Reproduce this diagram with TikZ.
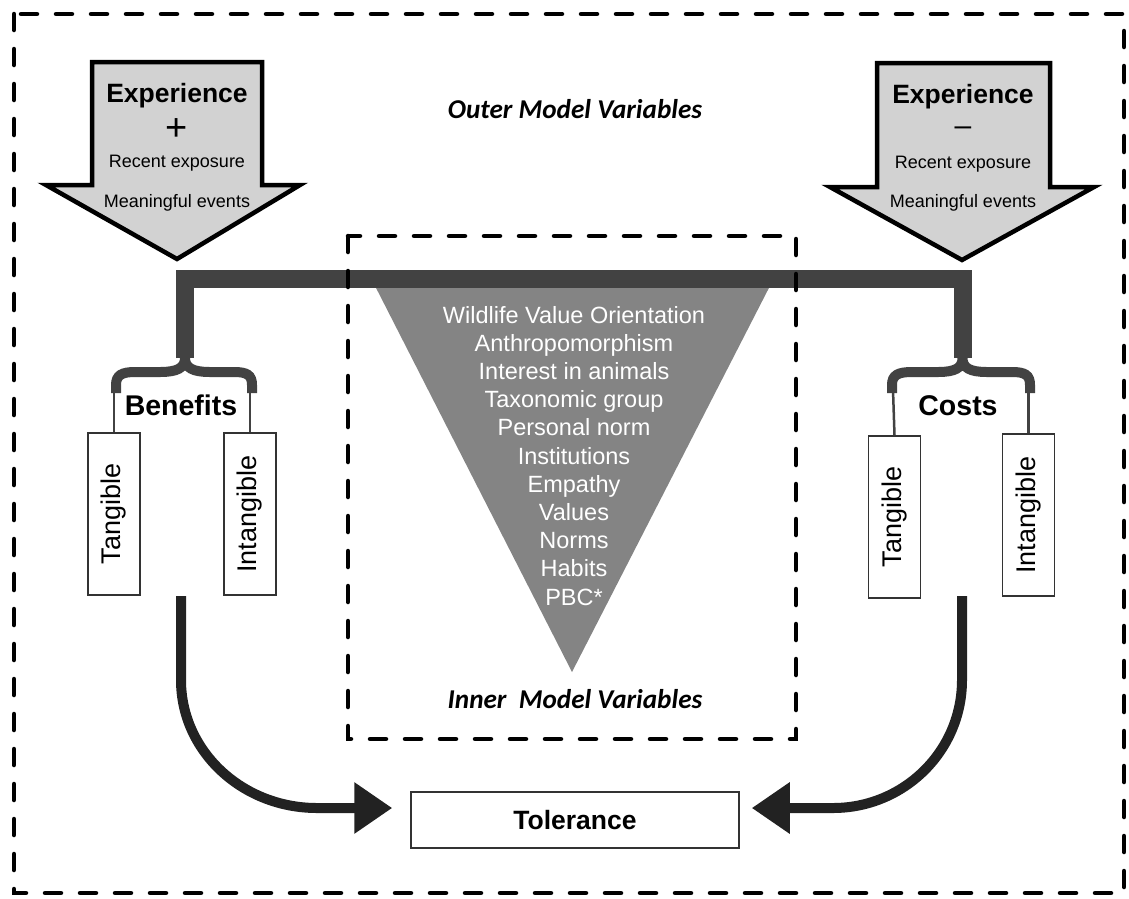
\documentclass[tikz,border=0pt]{standalone}
\usepackage{fontspec}
\setmainfont{Liberation Sans}
\newfontfamily\calfont{Carlito}
\usetikzlibrary{arrows.meta}
\definecolor{bargray}{HTML}{424242}
\definecolor{trigray}{HTML}{848484}
\definecolor{arrowfill}{HTML}{D2D2D2}
\definecolor{darkarrow}{HTML}{222222}
\definecolor{boxgray}{HTML}{333333}
\begin{document}
\begin{tikzpicture}[x=1pt,y=-1pt,
  dashbox/.style={draw=black, line width=4.5pt, dash pattern=on 16pt off 19pt, line cap=round},
  exparrow/.style={draw=black, fill=arrowfill, line width=4.5pt},
  bar/.style={draw=bargray, line width=18pt},
  brace/.style={draw=bargray, line width=10pt},
  thinline/.style={draw=bargray, line width=2.5pt},
  vbox/.style={draw=boxgray, line width=1.5pt, fill=white, rotate=90, minimum width=162pt, minimum height=52pt, inner sep=0pt, font=\fontsize{27}{30}\selectfont},
  curvearrow/.style={draw=darkarrow, line width=10pt, -{Triangle[length=38pt,width=49pt]}},
  headtxt/.style={anchor=base, font=\fontsize{26.5}{30}\selectfont\bfseries},
  subtxt/.style={anchor=base, font=\fontsize{18}{21}\selectfont},
  signtxt/.style={anchor=center, font=\fontsize{38}{40}\selectfont},
  vartxt/.style={anchor=base, text=white, font=\fontsize{23.5}{28}\selectfont},
  labtxt/.style={anchor=base, font=\fontsize{28.5}{30}\selectfont\bfseries},
  modtxt/.style={anchor=base, font=\fontsize{27.2}{30}\selectfont\calfont\bfseries\itshape}
]
\useasboundingbox (0,0) rectangle (1129,898);

% outer dashed frame
\draw[dashbox] (14,14) rectangle (1124,893);

% experience arrows
\draw[exparrow] (92,62) -- (262,62) -- (262,185) -- (300,185) -- (177,259) -- (46,185) -- (92,185) -- cycle;
\node[headtxt] (expL) at (177,102) {Experience};
\node[signtxt] (plus) at (177,130) {+};
\node[subtxt] (recL) at (177,167) {Recent exposure};
\node[subtxt] (meaL) at (177,207) {Meaningful events};

\draw[exparrow] (877,63) -- (1050,63) -- (1050,187) -- (1094,187) -- (962,260) -- (830,187) -- (877,187) -- cycle;
\node[headtxt] (expR) at (963,103) {Experience};
\node[signtxt, font=\fontsize{30}{34}\selectfont] (minus) at (963,131) {--};
\node[subtxt] (recR) at (963,168) {Recent exposure};
\node[subtxt] (meaR) at (963,207) {Meaningful events};

\node[modtxt] (outer) at (575,118) {Outer Model Variables};

% inner triangle
\draw[fill=trigray, draw=none] (372,280) -- (773,280) -- (572,672) -- cycle;
\foreach \t [count=\i from 0] in {Wildlife Value Orientation, Anthropomorphism, Interest in animals, Taxonomic group, Personal norm, Institutions, Empathy, Values, Norms, Habits, PBC*}
  \node[vartxt] (v\i) at (574,{323+28.2*\i}) {\t};

% coordinates
\coordinate (lcusp) at (185,358);
\coordinate (rcusp) at (962.5,358);
\coordinate (barL) at (185,279);
\coordinate (barR) at (962.5,279);
\coordinate (lstart) at (181,596);
\coordinate (rstart) at (962,596);

% bar
\draw[bar] (lcusp) -- (barL) -- (barR) -- (rcusp);

% braces
\draw[brace] (116,393) -- (116,385) .. controls (116,375) and (122,372) .. (135,372) -- (160,372) .. controls (177,372) and (185,368) .. (lcusp) .. controls (185,368) and (193,372) .. (210,372) -- (234,372) .. controls (247,372) and (252,375) .. (252,385) -- (252,393);
\draw[brace] (892,393) -- (892,385) .. controls (892,375) and (898,372) .. (912,372) -- (938,372) .. controls (955,372) and (962.5,368) .. (rcusp) .. controls (962.5,368) and (970,372) .. (987,372) -- (1012,372) .. controls (1025,372) and (1030,375) .. (1030,385) -- (1030,393);

% boxes
\node[vbox] (tanL) at (114,514) {Tangible};
\node[vbox] (intL) at (250,514) {Intangible};
\node[vbox] (tanR) at (894.5,517) {Tangible};
\node[vbox] (intR) at (1028.5,515) {Intangible};

\draw[thinline] (114,390) -- (tanL.east);
\draw[thinline] (250,390) -- (intL.east);
\draw[thinline] (893,390) -- (tanR.east);
\draw[thinline] (1028.5,390) -- (intR.east);

\node[labtxt] (ben) at (181,415) {Benefits};
\node[labtxt] (cos) at (958,415) {Costs};

% inner dashed frame
\draw[dashbox] (348,236) rectangle (796,739);
\node[modtxt] (inner) at (575,708) {Inner\ \ Model Variables};

% tolerance
\node[draw=boxgray, line width=1.5pt, minimum width=328pt, minimum height=56pt, inner sep=0pt, font=\fontsize{26.5}{30}\selectfont\bfseries] (tol) at (575,820) {Tolerance};

% curved arrows
\draw[curvearrow, shorten >=18pt] (lstart) -- (181,680) .. controls (181,751) and (242,808) .. (317,808) -- ([yshift=12pt]tol.west);
\draw[curvearrow, shorten >=12pt] (rstart) -- (962,680) .. controls (962,751) and (904,808) .. (833,808) -- ([yshift=12pt]tol.east);
\end{tikzpicture}
\end{document}
